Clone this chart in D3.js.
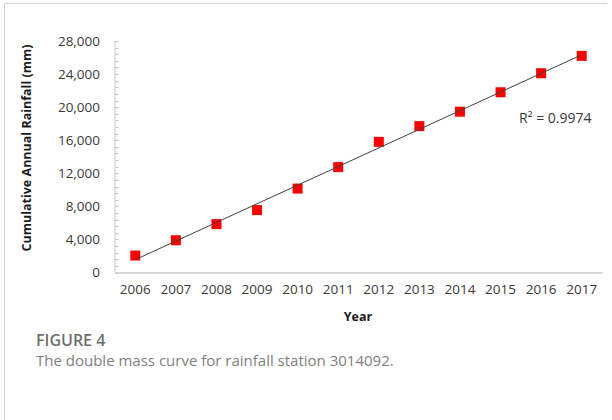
<!DOCTYPE html>
<html>
<head>
<meta charset="utf-8">
<script src="https://cdn.jsdelivr.net/npm/d3@7"></script>
<style>
  html, body { margin: 0; padding: 0; background: #fff; }
  svg { display: block; }
</style>
</head>
<body>
<svg id="chart" width="612" height="420"></svg>
<script>
// Cumulative annual rainfall at station 3014092, 2006–2017
const years = ["2006", "2007", "2008", "2009", "2010", "2011", "2012", "2013", "2014", "2015", "2016", "2017"];
const cumulativeRainfall = [2050, 3900, 5850, 7550, 10150, 12750, 15800, 17700, 19450, 21800, 24100, 26200];
const yTicks = [0, 4000, 8000, 12000, 16000, 20000, 24000, 28000];
const rSquaredLabel = "R² = 0.9974";
const yAxisTitle = "Cumulative Annual Rainfall (mm)";
const xAxisTitle = "Year";
const figureLabel = "FIGURE 4";
const figureCaption = "The double mass curve for rainfall station 3014092.";

const svg = d3.select("#chart");
const plot = { left: 115, right: 602, top: 41, bottom: 272.5 };
const tickFont = "'Open Sans', sans-serif";

// Frame around the figure panel
svg.append("path")
  .attr("d", "M4.5,420 V3.5 H607")
  .attr("fill", "none")
  .attr("stroke", "#d4d4d4")
  .attr("stroke-width", 1);

const x = d3.scaleBand().domain(years).range([plot.left, plot.right]).padding(0);
const y = d3.scaleLinear().domain([0, 28000]).range([plot.bottom, plot.top]);
const cx = d => x(d) + x.bandwidth() / 2;

// Y axis: line, inward minor ticks every 800, labels every 4000
const yAxisG = svg.append("g").attr("transform", `translate(${plot.left},0)`);
yAxisG.append("line")
  .attr("x1", 0).attr("x2", 0)
  .attr("y1", y(28000)).attr("y2", y(0))
  .attr("stroke", "#c8c8c8");
yAxisG.selectAll("line.minor")
  .data(d3.range(0, 28000 + 1, 800))
  .join("line")
  .attr("class", "minor")
  .attr("x1", 0).attr("x2", 3.5)
  .attr("y1", d => Math.round(y(d)) + 0.5).attr("y2", d => Math.round(y(d)) + 0.5)
  .attr("stroke", "#c8c8c8");
yAxisG.selectAll("text")
  .data(yTicks)
  .join("text")
  .attr("x", -15)
  .attr("y", d => y(d))
  .attr("dy", "0.35em")
  .attr("text-anchor", "end")
  .attr("font-family", tickFont)
  .attr("font-size", 13.5)
  .attr("fill", "#3a3a3a")
  .text(d3.format(","));

// X axis: baseline and year labels
const xAxis = d3.axisBottom(x).tickSize(0).tickPadding(0);
const xAxisG = svg.append("g")
  .attr("transform", `translate(0,${plot.bottom})`)
  .call(xAxis);
xAxisG.select(".domain").attr("stroke", "#c8c8c8").attr("stroke-width", 1.5);
xAxisG.selectAll(".tick text")
  .attr("y", 17)
  .attr("dy", "0.35em")
  .attr("font-family", tickFont)
  .attr("font-size", 13.5)
  .attr("fill", "#3a3a3a");

// Data markers
svg.append("g")
  .selectAll("rect")
  .data(years.map((yr, i) => ({ yr, v: cumulativeRainfall[i] })))
  .join("rect")
  .attr("x", d => cx(d.yr) - 5)
  .attr("y", d => y(d.v) - 5)
  .attr("width", 10)
  .attr("height", 10)
  .attr("fill", "#ff0000");

// Linear trend line (least squares on the year index)
const n = years.length;
const idx = d3.range(n);
const mx = d3.mean(idx), my = d3.mean(cumulativeRainfall);
const slope = d3.sum(idx, i => (i - mx) * (cumulativeRainfall[i] - my)) / d3.sum(idx, i => (i - mx) ** 2);
const intercept = my - slope * mx;
svg.append("line")
  .attr("x1", cx(years[0])).attr("y1", y(intercept))
  .attr("x2", cx(years[n - 1])).attr("y2", y(intercept + slope * (n - 1)))
  .attr("stroke", "#404040")
  .attr("stroke-width", 1);

// Fit statistic
svg.append("text")
  .attr("x", 519).attr("y", 118)
  .attr("dy", "0.35em")
  .attr("font-family", tickFont)
  .attr("font-size", 14)
  .attr("fill", "#3a3a3a")
  .text(rSquaredLabel);

// Axis titles
svg.append("text")
  .attr("transform", "translate(27,148) rotate(-90)")
  .attr("text-anchor", "middle")
  .attr("dy", "0.35em")
  .attr("font-family", tickFont)
  .attr("font-weight", "bold")
  .attr("font-size", 12.5)
  .attr("fill", "#1a1a1a")
  .text(yAxisTitle);

svg.append("text")
  .attr("x", 358).attr("y", 317)
  .attr("text-anchor", "middle")
  .attr("dy", "0.35em")
  .attr("font-family", tickFont)
  .attr("font-weight", "bold")
  .attr("font-size", 12.5)
  .attr("fill", "#1a1a1a")
  .text(xAxisTitle);

// Figure label and caption
svg.append("text")
  .attr("x", 36).attr("y", 346)
  .attr("font-family", tickFont)
  .attr("font-weight", 600)
  .attr("font-size", 16)
  .attr("fill", "#6e6e6e")
  .text(figureLabel);

svg.append("text")
  .attr("x", 36).attr("y", 366)
  .attr("font-family", tickFont)
  .attr("font-size", 15)
  .attr("fill", "#808080")
  .text(figureCaption);
</script>
</body>
</html>
